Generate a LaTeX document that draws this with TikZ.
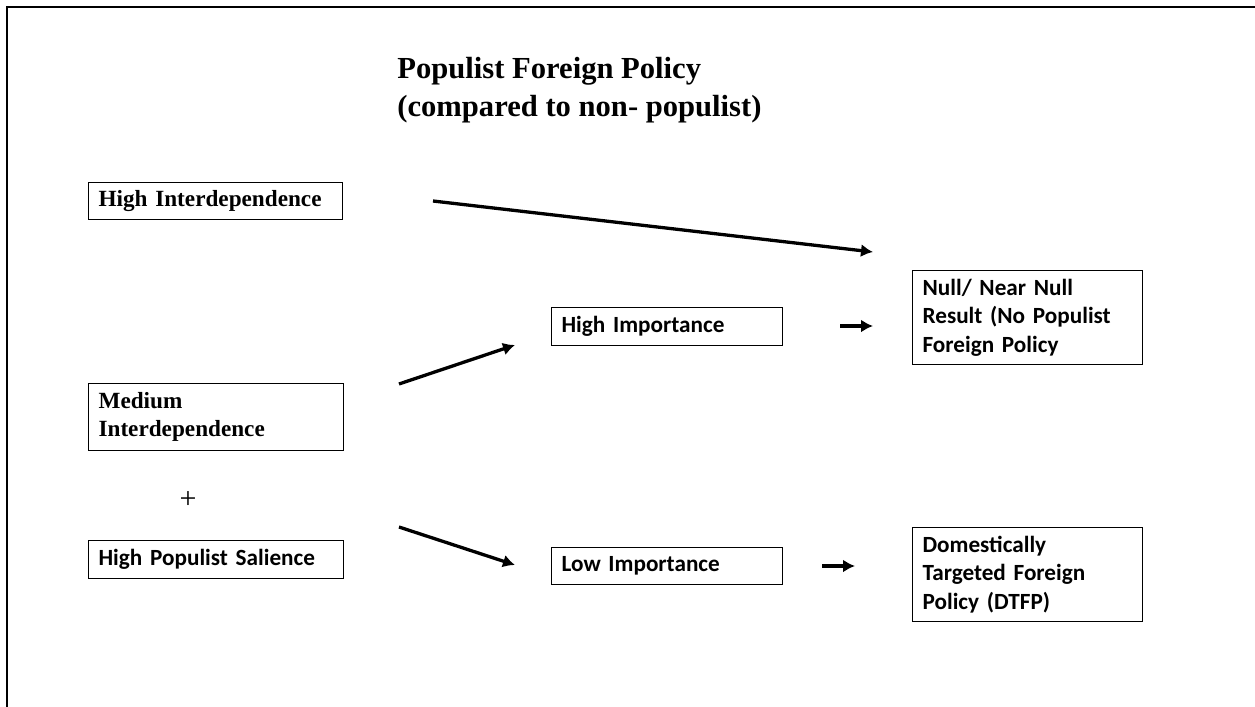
\documentclass[tikz,border=0pt]{standalone}
\usepackage{fontspec}
\setmainfont{Liberation Serif}
\newfontfamily\calibri{Carlito}
\usetikzlibrary{shapes,arrows.meta}

\tikzset{
  serifbox/.style={draw, anchor=north west, align=left, inner xsep=5pt, inner ysep=0pt,
    font=\bfseries\fontsize{11.6}{14}\selectfont},
  sansbox/.style={draw, anchor=north west, align=left, inner xsep=5pt, inner ysep=0pt,
    font=\calibri\bfseries\fontsize{11.6}{14.2}\selectfont},
  flow/.style={-{Latex[length=6pt,width=6.5pt]}, line width=1.65pt}
}

\begin{document}
\begin{tikzpicture}[x=0.5pt, y=-0.5pt]
\useasboundingbox (0,0) rectangle (1255,707);
\draw [line width=1.2pt] (7,707) -- (7,7) -- (1255,7); % frame
\node [anchor=north west, align=left, inner sep=0pt, font=\bfseries\fontsize{15.3}{18.7}\selectfont] (title) at (397,57) {Populist Foreign Policy\\(compared to non- populist)};
\draw [semithick] (88,182) node[serifbox, text width=117pt, minimum height=18.5pt] (hiint) {High Interdependence};
\draw [semithick] (88,383) node[serifbox, text width=117.5pt, minimum height=33.5pt] (medint) {Medium\\Interdependence};
\node [font=\fontsize{15}{18}\selectfont, inner sep=0pt] (plus) at (188,500) {+};
\draw [semithick] (88,540) node[sansbox, text width=117.5pt, minimum height=19pt] (salience) {High Populist Salience};
\draw [semithick] (551,307) node[sansbox, text width=105.5pt, minimum height=19pt] (himp) {High Importance};
\draw [semithick] (551,547) node[sansbox, text width=105.5pt, minimum height=18.5pt] (lowimp) {Low Importance};
\draw [semithick] (912,270) node[sansbox, text width=105pt, minimum height=47pt] (null) {Null/ Near Null\\Result (No Populist\\Foreign Policy};
\draw [semithick] (912,527) node[sansbox, text width=105pt, minimum height=47pt] (dtfp) {Domestically\\Targeted Foreign\\Policy (DTFP)};
% arrow ends
\coordinate (hiintA) at (433,201);
\coordinate (nullA) at (873,252);
\coordinate (medA) at (399,384);
\coordinate (himpA) at (515,345);
\coordinate (salA) at (399,527);
\coordinate (lowA) at (515,565);
\coordinate (himpB) at (840,326);
\coordinate (nullB) at (873,326);
\coordinate (lowB) at (822,566);
\coordinate (dtfpB) at (855,566);
\draw [flow] (hiintA) to (nullA);
\draw [flow] (medA) to (himpA);
\draw [flow] (salA) to (lowA);
\draw [flow] (himpB) to (nullB);
\draw [flow] (lowB) to (dtfpB);
\end{tikzpicture}
\end{document}
